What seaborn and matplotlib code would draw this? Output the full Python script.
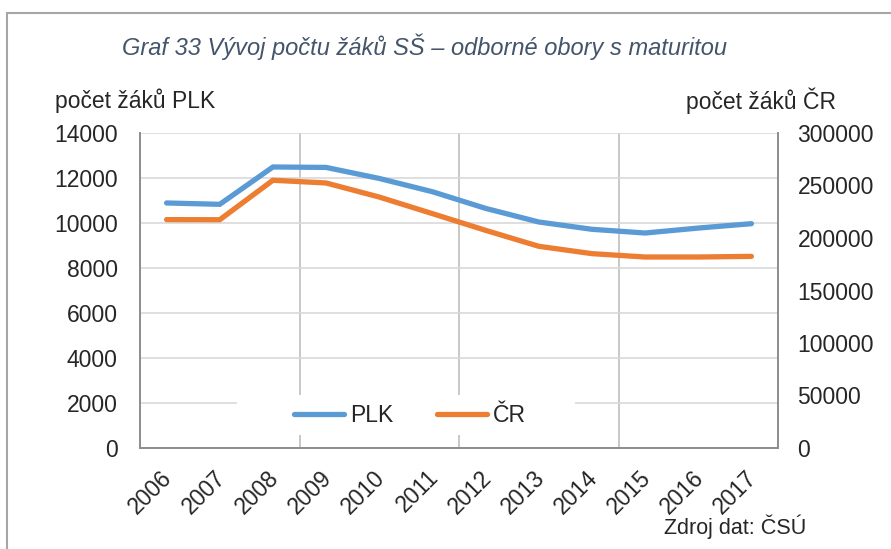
import pandas as pd
import matplotlib.pyplot as plt
import matplotlib.transforms as mtrans
import seaborn as sns
from matplotlib.lines import Line2D
from matplotlib.patches import Rectangle

years = ['2006', '2007', '2008', '2009', '2010', '2011',
         '2012', '2013', '2014', '2015', '2016', '2017']
plk = [10890, 10830, 12490, 12470, 11980, 11390,
       10650, 10045, 9720, 9555, 9775, 9970]
cr = [217500, 217400, 255000, 252400, 239000, 223200,
      207300, 192100, 185100, 181900, 181900, 182500]

df = pd.DataFrame({'rok': years, 'PLK': plk, 'ČR': cr})

sns.set_style('white')
plt.rcParams['font.family'] = ['Liberation Sans', 'DejaVu Sans']

blue = '#5B9BD5'
orange = '#ED7D31'
fs = 16.5

fig = plt.figure(figsize=(8.91, 5.49), dpi=100)
ax = fig.add_axes([140 / 891, 1 - 448 / 549, 638 / 891, 315 / 549])
ax2 = ax.twinx()

sns.lineplot(data=df, x='rok', y='PLK', ax=ax, color=blue, linewidth=3.8,
             solid_capstyle='round', solid_joinstyle='miter', sort=False)
sns.lineplot(data=df, x='rok', y='ČR', ax=ax2, color=orange, linewidth=3.8,
             solid_capstyle='round', solid_joinstyle='miter', sort=False)

ax.set_xlim(-0.5, len(years) - 0.5)
ax.set_ylim(0, 14000)
ax.set_yticks(range(0, 14001, 2000))
ax2.set_ylim(0, 300000)
ax2.set_yticks(range(0, 300001, 50000))

# gridlines
ax.set_xticks([2.5, 5.5, 8.5], minor=True)
ax.grid(axis='y', which='major', color='#D9D9D9', linewidth=1.2)
ax.grid(axis='x', which='minor', color='#BFBFBF', linewidth=1.2)
ax.grid(axis='x', which='major', visible=False)
ax.set_axisbelow(True)

for a in (ax, ax2):
    a.set_xlabel('')
    a.set_ylabel('')
    for s in a.spines.values():
        s.set_color('#8C8C8C')
        s.set_linewidth(1.2)
    a.spines['top'].set_visible(False)

ax.tick_params(axis='both', which='both', length=0, labelsize=fs)
ax.tick_params(axis='y', pad=16)
ax2.tick_params(axis='y', length=0, labelsize=fs, pad=14)
ax.tick_params(axis='x', pad=10)
shift = mtrans.ScaledTranslation(-0.06, -0.04, fig.dpi_scale_trans)
for lbl in ax.get_xticklabels():
    lbl.set_rotation(45)
    lbl.set_ha('right')
    lbl.set_rotation_mode('anchor')
    lbl.set_transform(lbl.get_transform() + shift)

# white legend box hiding the gridlines (as in the Excel chart)
ax2.add_patch(Rectangle((0.152, 0.041), 0.53, 0.127, transform=ax2.transAxes,
                        facecolor='white', edgecolor='none', zorder=1))

handles = [Line2D([], [], color=blue, linewidth=3.8, solid_capstyle='round'),
           Line2D([], [], color=orange, linewidth=3.8, solid_capstyle='round')]
leg = ax2.legend(handles, ['PLK', 'ČR'], loc='center', bbox_to_anchor=(0.423, 0.102),
                 ncol=2, frameon=False, fontsize=fs, handlelength=2.2, handletextpad=0.25,
                 columnspacing=1.9, borderpad=0.5, borderaxespad=0)

fig.text(425 / 891, 1 - 47 / 549, 'Graf 33 Vývoj počtu žáků SŠ – odborné obory s maturitou',
         ha='center', va='center', fontsize=17, style='italic', color='#44546A')
fig.text(55 / 891, 1 - 101 / 549, 'počet žáků PLK', ha='left', va='center', fontsize=fs)
fig.text(836 / 891, 1 - 101 / 549, 'počet žáků ČR', ha='right', va='center', fontsize=fs)
fig.text(806 / 891, 1 - 527 / 549, 'Zdroj dat: ČSÚ', ha='right', va='center', fontsize=15.5)

# chart border
fig.add_artist(Line2D([7 / 891, 7 / 891], [0, 1 - 12.5 / 549], transform=fig.transFigure,
                      color='#A6A6A6', linewidth=1.5))
fig.add_artist(Line2D([7 / 891, 1], [1 - 12.5 / 549, 1 - 12.5 / 549], transform=fig.transFigure,
                      color='#A6A6A6', linewidth=1.5))

fig.savefig('out.png', dpi=100)
